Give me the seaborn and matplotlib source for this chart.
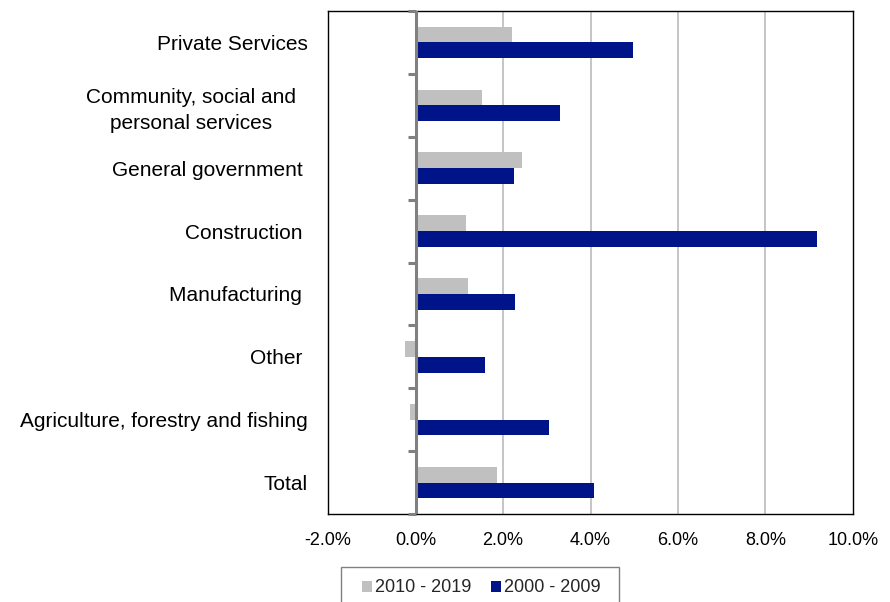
import matplotlib
matplotlib.use("Agg")
import matplotlib.pyplot as plt
import seaborn as sns
import pandas as pd
import numpy as np
from matplotlib.ticker import FuncFormatter
from matplotlib.patches import Rectangle

categories = [
    "Private Services",
    "Community, social and  \npersonal services  ",
    "General government ",
    "Construction ",
    "Manufacturing ",
    "Other ",
    "Agriculture, forestry and fishing",
    "Total",
]
series_names = ["2010 - 2019", "2000 - 2009"]
vals_2010_2019 = [2.21, 1.53, 2.43, 1.15, 1.20, -0.24, -0.13, 1.87]
vals_2000_2009 = [4.98, 3.31, 2.25, 9.18, 2.27, 1.59, 3.05, 4.09]
x_ticks = [-2, 0, 2, 4, 6, 8, 10]
colors = ["#c0c0c0", "#001489"]

df = pd.DataFrame({
    "category": categories * 2,
    "series": [series_names[0]] * len(categories) + [series_names[1]] * len(categories),
    "value": vals_2010_2019 + vals_2000_2009,
})

sns.set_theme(style="white")
plt.rcParams["font.family"] = ["Liberation Sans", "DejaVu Sans"]

fig = plt.figure(figsize=(8.9, 6.02), dpi=100)
ax = fig.add_axes([328 / 890, 1 - 514 / 602, 525 / 890, 503 / 602])

sns.barplot(data=df, y="category", x="value", hue="series", order=categories,
            hue_order=series_names, palette=colors, orient="h", width=0.5,
            saturation=1, ax=ax, legend=True, linewidth=0)

ax.set_xlim(x_ticks[0], x_ticks[-1])
ax.set_ylim(len(categories) - 0.5, -0.5)
ax.set_xticks(x_ticks)
ax.xaxis.set_major_formatter(FuncFormatter(lambda v, p: f"{v:.1f}%"))
ax.set_xlabel("")
ax.set_ylabel("")

for g in x_ticks[2:-1]:
    ax.axvline(g, color="#c0c0c0", lw=1.3, zorder=0)

ax.axvline(0, color="#808080", lw=2.2, zorder=3)
bounds = np.arange(len(categories) + 1) - 0.5
ax.hlines(bounds, -0.17, 0, color="#808080", lw=2.2, zorder=3, clip_on=False)

for s in ax.spines.values():
    s.set_visible(True)
    s.set_color("black")
    s.set_linewidth(1.0)

ax.tick_params(axis="x", length=0, pad=13, labelsize=13, colors="black")
ax.tick_params(axis="y", length=0, pad=14.4, labelsize=15, colors="black")
for lab in ax.get_yticklabels():
    lab.set_multialignment("center")
    lab.set_linespacing(1.45)

ax.get_legend().remove()
handles, labels = ax.get_legend_handles_labels()
leg = fig.legend(handles[:2], labels[:2], loc="center left",
                 bbox_to_anchor=(362 / 890, 1 - 588 / 602), ncol=2,
                 frameon=False, fontsize=13,
                 handlelength=0.55, handleheight=0.55, handletextpad=0.15,
                 columnspacing=1.1, borderpad=0, borderaxespad=0)
fig.patches.append(Rectangle((341 / 890, -0.05), (619 - 341) / 890,
                             1 - 567 / 602 + 0.05, transform=fig.transFigure,
                             fill=False, edgecolor="#808080", lw=1.0))

fig.savefig("out.png", dpi=100)
